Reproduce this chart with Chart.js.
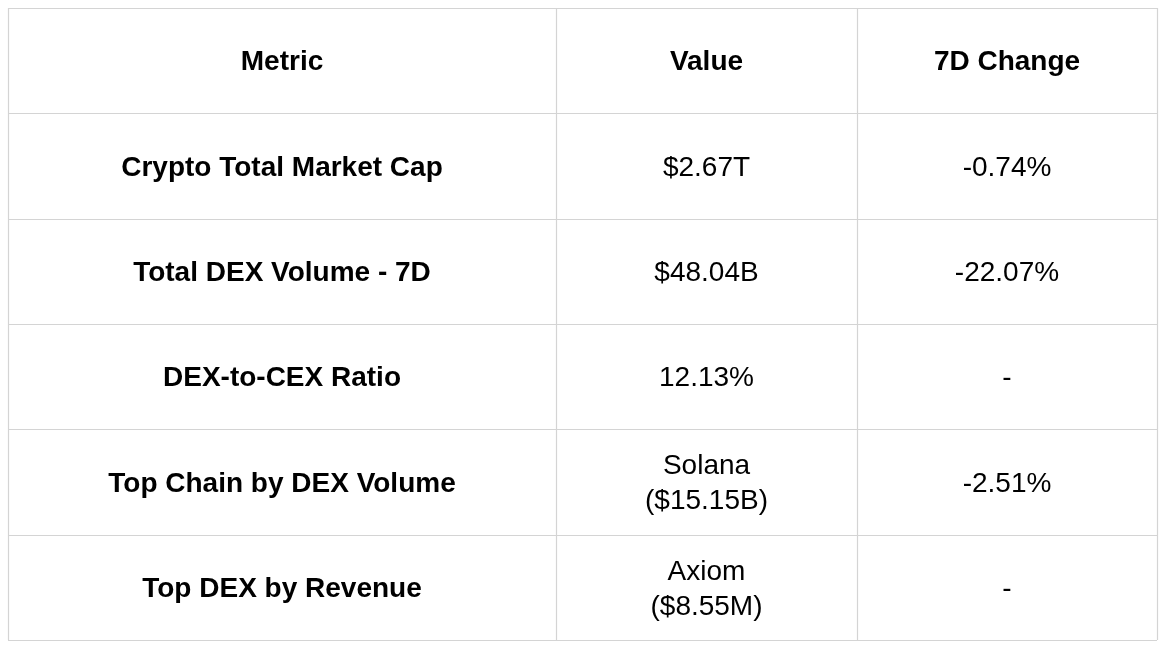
<!DOCTYPE html>
<html><head><meta charset="utf-8">
<script src="https://cdn.jsdelivr.net/npm/chart.js@4/dist/chart.umd.min.js"></script>
<style>html,body{margin:0;background:#fff}#wrap{width:1166px;height:652px}</style>
</head><body><div id="wrap"><canvas id="c"></canvas></div>
<script>
// table contents
const headers = ['Metric', 'Value', '7D Change'];
const metrics = ['Crypto Total Market Cap', 'Total DEX Volume - 7D', 'DEX-to-CEX Ratio', 'Top Chain by DEX Volume', 'Top DEX by Revenue'];
const values = [['$2.67T'], ['$48.04B'], ['12.13%'], ['Solana', '($15.15B)'], ['Axiom', '($8.55M)']];
const changes = ['-0.74%', '-22.07%', '-', '-2.51%', '-'];

// column edges in x-scale units (relative widths)
const colEdges = [0, 548, 849, 1149];

const tablePlugin = {
  id: 'table',
  afterDraw(chart) {
    const ctx = chart.ctx, xs = chart.scales.x, ys = chart.scales.y;
    const rows = [headers].concat(metrics.map((m, i) => [m, values[i], changes[i]]));
    ctx.save();
    ctx.strokeStyle = '#d4d4d4';
    ctx.lineWidth = 1.2;
    const x0 = xs.getPixelForValue(colEdges[0]), x1 = xs.getPixelForValue(colEdges[3]);
    const y0 = ys.getPixelForValue(0), y1 = ys.getPixelForValue(rows.length);
    for (let r = 0; r <= rows.length; r++) {
      const y = Math.round(ys.getPixelForValue(r)) + 0.5;
      ctx.beginPath(); ctx.moveTo(x0, y); ctx.lineTo(x1, y); ctx.stroke();
    }
    colEdges.forEach(e => {
      const x = Math.round(xs.getPixelForValue(e)) + 0.5;
      ctx.beginPath(); ctx.moveTo(x, y0); ctx.lineTo(x, y1); ctx.stroke();
    });
    ctx.fillStyle = '#000';
    ctx.textAlign = 'center';
    ctx.textBaseline = 'middle';
    rows.forEach((row, r) => {
      const yc = ys.getPixelForValue(r + 0.5);
      row.forEach((cell, c) => {
        const xc = xs.getPixelForValue((colEdges[c] + colEdges[c + 1]) / 2);
        const bold = r === 0 || c === 0;
        ctx.font = (bold ? 'bold ' : '') + '28px "Liberation Sans", Arial, sans-serif';
        const lines = Array.isArray(cell) ? cell : [cell];
        const lh = 35;
        lines.forEach((t, i) => {
          ctx.fillText(t, xc, yc + (i - (lines.length - 1) / 2) * lh + 2);
        });
      });
    });
    ctx.restore();
  }
};

new Chart(document.getElementById('c'), {
  type: 'scatter',
  data: { datasets: [{ data: [] }] },
  options: {
    responsive: true,
    maintainAspectRatio: false,
    animation: false,
    layout: { padding: { left: 8, right: 9, top: 8, bottom: 12 } },
    plugins: { legend: { display: false }, tooltip: { enabled: false } },
    scales: {
      x: { type: 'linear', min: colEdges[0], max: colEdges[3], display: false },
      y: { type: 'linear', min: 0, max: metrics.length + 1, reverse: true, display: false }
    }
  },
  plugins: [tablePlugin]
});
</script>
</body></html>
